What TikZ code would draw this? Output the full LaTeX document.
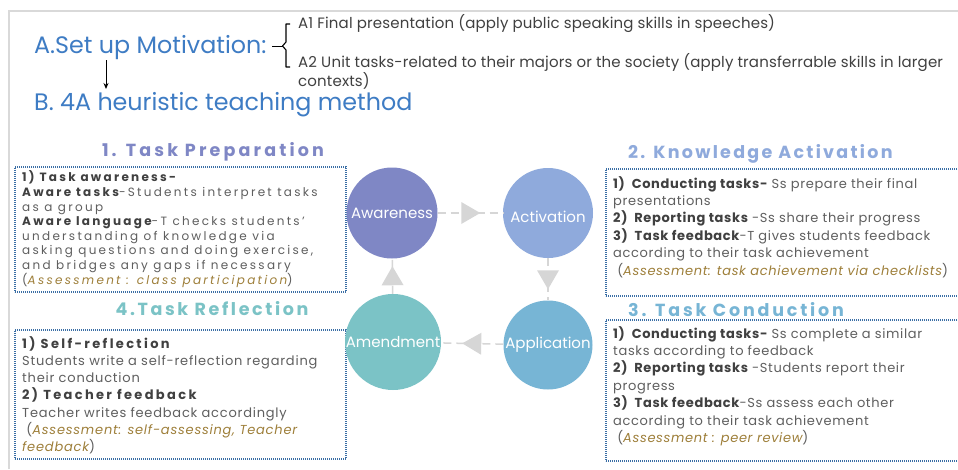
\documentclass[tikz,border=0pt]{standalone}
\usepackage{fontspec}
\setmainfont{Poppins}
\usetikzlibrary{decorations.markings,arrows.meta}
\definecolor{titleblue}{HTML}{3E7CC4}
\definecolor{darktext}{HTML}{404040}
\definecolor{bodytext}{HTML}{5F5F5F}
\definecolor{goldtext}{HTML}{9E7F3A}
\definecolor{boxblue}{HTML}{3A6EA5}
\definecolor{framegray}{HTML}{D9D9D9}
\definecolor{arrowgray}{HTML}{D6D6D6}
\definecolor{cAw}{HTML}{7F87C5}
\definecolor{cAc}{HTML}{8FAADC}
\definecolor{cAp}{HTML}{77B5D5}
\definecolor{cAm}{HTML}{7BC3C6}
\newcommand{\assess}[1]{{\color{goldtext}\itshape #1}}
\begin{document}
\begin{tikzpicture}[x=1pt,y=-1pt,
  dotbox/.style={draw=boxblue, line width=1.1pt, dash pattern=on 0.9pt off 1.1pt, inner sep=0pt},
  ringfont/.style={text=white, font=\fontsize{15}{17}\selectfont},
  ring/.style={circle, inner sep=0pt, ringfont},
  sectitle/.style={font=\fontsize{17.5}{20}\selectfont\bfseries\addfontfeature{LetterSpace=#1}, inner sep=0pt},
  cyc/.style={draw=arrowgray, line width=1.5pt, dash pattern=on 8pt off 5pt,
    postaction={decorate}, decoration={markings, mark=at position 0.5 with {\fill[arrowgray] (10,0) -- (-9,11) -- (-9,-11) -- cycle;}}},
  bigtitle/.style={text=titleblue, font=\fontsize{23.8}{28}\selectfont, inner sep=0pt, anchor=base west},
  small/.style={text=darktext, font=\fontsize{15}{19.5}\selectfont\addfontfeature{LetterSpace=1}, inner sep=0pt, anchor=base west, align=left},
  boxtext/.style={anchor=base west, inner sep=0pt, align=left, text=bodytext}
]
\useasboundingbox (0,0) rectangle (958,469);
\clip (0,0) rectangle (958,469);
\fill[white] (0,0) rectangle (958,469);
% frame
\draw[framegray, line width=2pt] (9,469) -- (9,11) -- (958,11);

% titles
\node[bigtitle] (tA) at (34,53) {A.Set up Motivation:};
\node[bigtitle] (tB) at (34,110) {B. 4A heuristic teaching method};
\coordinate (arrS) at (106,60);
\coordinate (arrE) at (106,89);
\draw[-{Stealth[length=6pt,width=5pt]}, line width=1pt] (arrS) -- (arrE);

% brace
\coordinate (brL) at (272,46);
\coordinate (brM) at (283,46);
\draw[black, line width=1pt] (brL) -- (brM);
\draw[black, line width=1.1pt, line join=round] (290,24) -- (286,24) -- (286,42) -- (282.5,46) -- (286,50) -- (286,67) -- (290,67);

\node[small] (a1) at (298,28) {A1 Final presentation (apply public speaking skills in speeches)};
\node[small] (a2) at (298,86.5) {A2 Unit tasks-related to their majors or the society (apply transferrable skills in larger\\contexts)};

% boxes
\node[dotbox, minimum width=331pt, minimum height=125pt] (box1) at (180.5,229.5) {};
\node[dotbox, minimum width=356pt, minimum height=127pt] (box2) at (784,232.5) {};
\node[dotbox, minimum width=356pt, minimum height=141pt] (box3) at (784,390.5) {};
\node[dotbox, minimum width=331pt, minimum height=129pt] (box4) at (180.5,394.5) {};

% section titles
\node[sectitle=18, text=cAw] (s1) at (213,152) {1. Task Preparation};
\node[sectitle=13, text=cAc, anchor=west] (s2) at (628,154) {2. Knowledge Activation};
\node[sectitle=16, text=cAp, anchor=west] (s3) at (628,310) {3. Task Conduction};
\node[sectitle=15, text=cAm] (s4) at (212,309) {4.Task Reflection};

% box texts (anchored at baseline of last line)
\node[boxtext, font=\fontsize{12}{14.6}\selectfont\addfontfeature{LetterSpace=19}] (b1) at (22,284)
{{\color{darktext}\bfseries 1) Task awareness-}\\
{\color{darktext}\bfseries Aware tasks}-Students interpret tasks\\
as a group\\
{\color{darktext}\bfseries Aware language}-T checks students'\\
understanding of knowledge via\\
asking questions and doing exercise,\\
and bridges any gaps if necessary\\
(\assess{Assessment : class participation})};

\node[boxtext, font=\fontsize{13}{17.4}\selectfont\addfontfeature{LetterSpace=5}] (b2) at (613,275)
{{\color{darktext}\bfseries 1)\ \ Conducting tasks-} Ss prepare their final\\
presentations\\
{\color{darktext}\bfseries 2)\ \ Reporting tasks} -Ss share their progress\\
{\color{darktext}\bfseries 3)\ \ Task feedback}-T gives students feedback\\
according to their task achievement\\
\ (\assess{Assessment: task achievement via checklists})};

\node[boxtext, font=\fontsize{13}{17.4}\selectfont\addfontfeature{LetterSpace=5}] (b3) at (613,442.4)
{{\color{darktext}\bfseries 1)\ \ Conducting tasks-} Ss complete a similar\\
tasks according to feedback\\
{\color{darktext}\bfseries 2)\ \ Reporting tasks} -Students report their\\
progress\\
{\color{darktext}\bfseries 3)\ \ Task feedback}-Ss assess each other\\
according to their task achievement\\
\ (\assess{Assessment : peer review})};

\node[boxtext, font=\fontsize{13}{17.3}\selectfont\addfontfeature{LetterSpace=6}] (b4) at (22,451.8)
{{\color{darktext}\bfseries\addfontfeature{LetterSpace=18}1) Self-reflection}\\
Students write a self-reflection regarding\\
their conduction\\
{\color{darktext}\bfseries\addfontfeature{LetterSpace=18}2) Teacher feedback}\\
Teacher writes feedback accordingly\\
\ (\assess{Assessment: self-assessing, Teacher}\\
\assess{feedback})};

% circles
\node[ring, fill=cAw, minimum size=91pt] (aw) at (392,213) {Awareness};
\node[circle, inner sep=0pt, fill=cAc, minimum size=90pt,
  label={[ringfont, inner sep=0pt, yshift=-4pt]center:Activation}] (ac) at (548,213) {};
\node[ring, fill=cAp, minimum size=89pt] (ap) at (548,345) {Application};
\node[ring, fill=cAm, minimum size=96pt] (am) at (393,342) {Amendment};

% cycle connectors
\draw[cyc] (aw) -- (ac);
\draw[cyc] (ac) -- (ap);
\draw[cyc] (ap) -- (am);
\draw[cyc] (am) -- (aw);
\end{tikzpicture}
\end{document}
